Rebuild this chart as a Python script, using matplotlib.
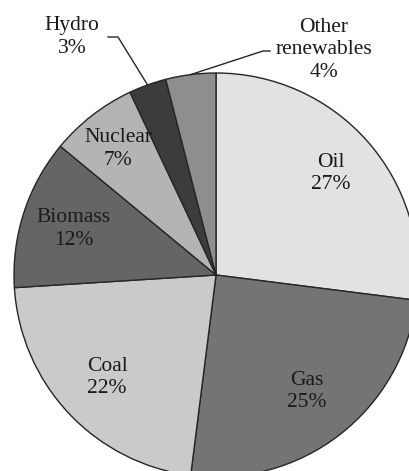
import matplotlib.pyplot as plt
import numpy as np

plt.rcParams['font.family'] = ['Liberation Serif', 'DejaVu Serif']

labels = ['Oil', 'Gas', 'Coal', 'Biomass', 'Nuclear', 'Hydro', 'Other\nrenewables']
shares = [27, 25, 22, 12, 7, 3, 4]
colors = ['#e2e2e2', '#747474', '#cacaca', '#656565', '#b4b4b4', '#3c3c3c', '#8e8e8e']

# pie centre / radius in pixels of the original picture
cx, cy, R = 216, 275, 202
W, H = 409, 471

fig = plt.figure(figsize=(W / 100, H / 100), dpi=100)
ax = fig.add_axes([0, 0, 1, 1])

wedges, _ = ax.pie(shares, colors=colors, startangle=90, counterclock=False,
                   radius=1, wedgeprops=dict(edgecolor='#262626', linewidth=1.0))

# pie() resets the limits, so set them afterwards
ax.set_xlim(-cx / R, (W - cx) / R)
ax.set_ylim(-(H - cy) / R, cy / R)
ax.set_aspect('equal')
ax.axis('off')

fs = 15.5
inside_r = [0.76, 0.73, 0.74, 0.74, 0.79]
for i, w in enumerate(wedges[:5]):
    mid = np.deg2rad((w.theta1 + w.theta2) / 2)
    ax.text(inside_r[i] * np.cos(mid), inside_r[i] * np.sin(mid),
            '%s\n%d%%' % (labels[i], shares[i]), ha='center', va='center',
            fontsize=fs, color='#1a1a1a', linespacing=1.25)

# outside labels with leader lines
outside = {5: ((72 - cx) / R, (cy - 37) / R, (118 - cx) / R, (108 - cx) / R, (cy - 37) / R),
           6: ((324 - cx) / R, (cy - 50) / R, (263 - cx) / R, (270 - cx) / R, (cy - 51) / R)}
for i, (tx, ty, ex, sx, ly) in outside.items():
    w = wedges[i]
    mid = np.deg2rad((w.theta1 + w.theta2) / 2)
    px, py = np.cos(mid), np.sin(mid)
    ax.plot([px, ex, sx], [py, ly, ly], color='#262626', linewidth=1.0)
    ax.text(tx, ty, '%s\n%d%%' % (labels[i], shares[i]), ha='center', va='center',
            fontsize=fs, color='#1a1a1a', linespacing=1.25)

fig.savefig('out.png', dpi=100)
